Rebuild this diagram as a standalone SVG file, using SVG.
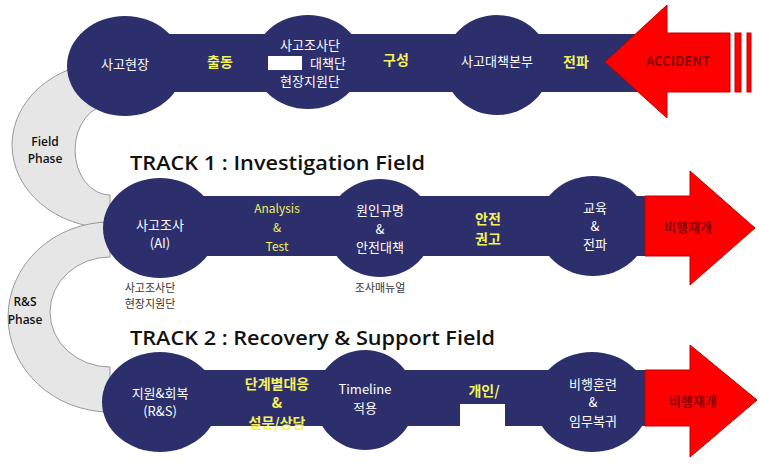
<svg xmlns="http://www.w3.org/2000/svg" width="759" height="470" viewBox="0 0 759 470">
<style>
.n{fill:#2c2f6c}
.w{fill:#fff;font-family:"Noto Sans CJK KR","Liberation Sans",sans-serif;font-size:13px;text-anchor:middle}
.y{fill:#f2f25a;font-family:"Noto Sans CJK KR","Liberation Sans",sans-serif;font-size:14px;font-weight:bold;text-anchor:middle}
.yn{fill:#f2f25a;font-family:"Noto Sans CJK KR","Liberation Sans",sans-serif;font-size:12px;text-anchor:middle}
.r{fill:#ff0000;stroke:#c00000;stroke-width:1}
.rt{fill:#8a0000;font-family:"Noto Sans CJK KR","Liberation Sans",sans-serif;font-size:13px;font-weight:bold;text-anchor:middle}
.b{fill:#111;font-family:"Open Sans","Liberation Sans",sans-serif;font-weight:600}
.s{fill:#333;font-family:"Noto Sans CJK KR",sans-serif;font-size:11px;text-anchor:middle}
.arc{fill:#e6e6e6;stroke:#999;stroke-width:1}
</style>
<rect width="759" height="470" fill="#fff"/>
<g id="connectors">
<path class="arc" d="M110,62 A98,83 0 0 0 110,228 L110,195 A35,45 0 0 1 110,105 Z"/>
<path class="arc" d="M110,222 A102,95 0 0 0 110,412 L110,367 A60,55 0 0 1 110,257 Z"/>
<text class="b" x="45" y="146" font-size="12" text-anchor="middle">Field</text>
<text class="b" x="45" y="163" font-size="12" text-anchor="middle">Phase</text>
<text class="b" x="25" y="306" font-size="12" text-anchor="middle">R&amp;S</text>
<text class="b" x="25" y="324" font-size="12" text-anchor="middle">Phase</text>
</g>
<g id="row1">
<rect class="n" x="80" y="34" width="560" height="58"/>
<ellipse class="n" cx="125" cy="66" rx="58" ry="50"/>
<ellipse class="n" cx="308" cy="62" rx="54" ry="47"/>
<ellipse class="n" cx="497" cy="65" rx="53" ry="50"/>
<path class="r" d="M605,62 L667,5 L667,33 L730,33 L730,92 L667,92 L667,118 Z"/>
<rect class="r" x="735" y="33" width="6" height="59"/>
<rect class="r" x="747" y="33" width="4" height="59"/>
<text class="w" x="125" y="69">사고현장</text>
<text class="y" x="220" y="67">출동</text>
<text class="w" x="310" y="50">사고조사단</text>
<rect x="268" y="56" width="34" height="14" fill="#fff"/>
<text class="w" x="328" y="68">대책단</text>
<text class="w" x="310" y="86">현장지원단</text>
<text class="y" x="396" y="65">구성</text>
<text class="w" x="497" y="66">사고대책본부</text>
<text class="y" x="576" y="67">전파</text>
<text class="rt" x="678" y="66" font-family="Liberation Sans,sans-serif">ACCIDENT</text>
</g>
<text class="b" x="130" y="170" font-size="19" textLength="295" lengthAdjust="spacingAndGlyphs">TRACK 1 : Investigation Field</text>
<g id="row2">
<rect class="n" x="120" y="196" width="530" height="60"/>
<ellipse class="n" cx="160" cy="228" rx="57" ry="50"/>
<ellipse class="n" cx="380" cy="228" rx="53" ry="49"/>
<ellipse class="n" cx="593" cy="226" rx="55" ry="50"/>
<path class="r" d="M645,196 L690,196 L690,171 L755,228 L690,285 L690,256 L645,256 Z"/>
<text class="w" x="160" y="230">사고조사</text>
<text class="w" x="160" y="248" font-size="11">(AI)</text>
<text class="yn" x="277" y="213">Analysis</text>
<text class="yn" x="277" y="232">&amp;</text>
<text class="yn" x="277" y="251">Test</text>
<text class="w" x="380" y="215">원인규명</text>
<text class="w" x="380" y="234" font-size="12">&amp;</text>
<text class="w" x="380" y="252">안전대책</text>
<text class="y" x="488" y="224">안전</text>
<text class="y" x="488" y="244">권고</text>
<text class="w" x="595" y="213">교육</text>
<text class="w" x="595" y="231" font-size="12">&amp;</text>
<text class="w" x="595" y="249">전파</text>
<text class="rt" x="688" y="232">비행재개</text>
<text class="s" x="150" y="292">사고조사단</text>
<text class="s" x="150" y="308">현장지원단</text>
<text class="s" x="380" y="292">조사매뉴얼</text>
</g>
<text class="b" x="130" y="345" font-size="19" textLength="365" lengthAdjust="spacingAndGlyphs">TRACK 2 : Recovery &amp; Support Field</text>
<g id="row3">
<rect class="n" x="120" y="370" width="530" height="56"/>
<ellipse class="n" cx="160" cy="402" rx="58" ry="50"/>
<ellipse class="n" cx="365" cy="400" rx="50" ry="50"/>
<ellipse class="n" cx="592" cy="402" rx="57" ry="50"/>
<path class="r" d="M645,370 L690,370 L690,345 L757,400 L690,457 L690,426 L645,426 Z"/>
<text class="w" x="160" y="398">지원&amp;회복</text>
<text class="w" x="160" y="416" font-size="11">(R&amp;S)</text>
<text class="y" x="277" y="389">단계별대응</text>
<text class="y" x="277" y="408" font-size="12">&amp;</text>
<text class="y" x="277" y="428">설문/상담</text>
<text class="w" x="365" y="394">Timeline</text>
<text class="w" x="365" y="413">적용</text>
<text class="y" x="484" y="396">개인/</text>
<rect x="460" y="404" width="45" height="22" fill="#fff"/>
<text class="w" x="593" y="389">비행훈련</text>
<text class="w" x="593" y="407" font-size="12">&amp;</text>
<text class="w" x="593" y="426">임무복귀</text>
<text class="rt" x="693" y="406">비행재개</text>
</g>
</svg>
